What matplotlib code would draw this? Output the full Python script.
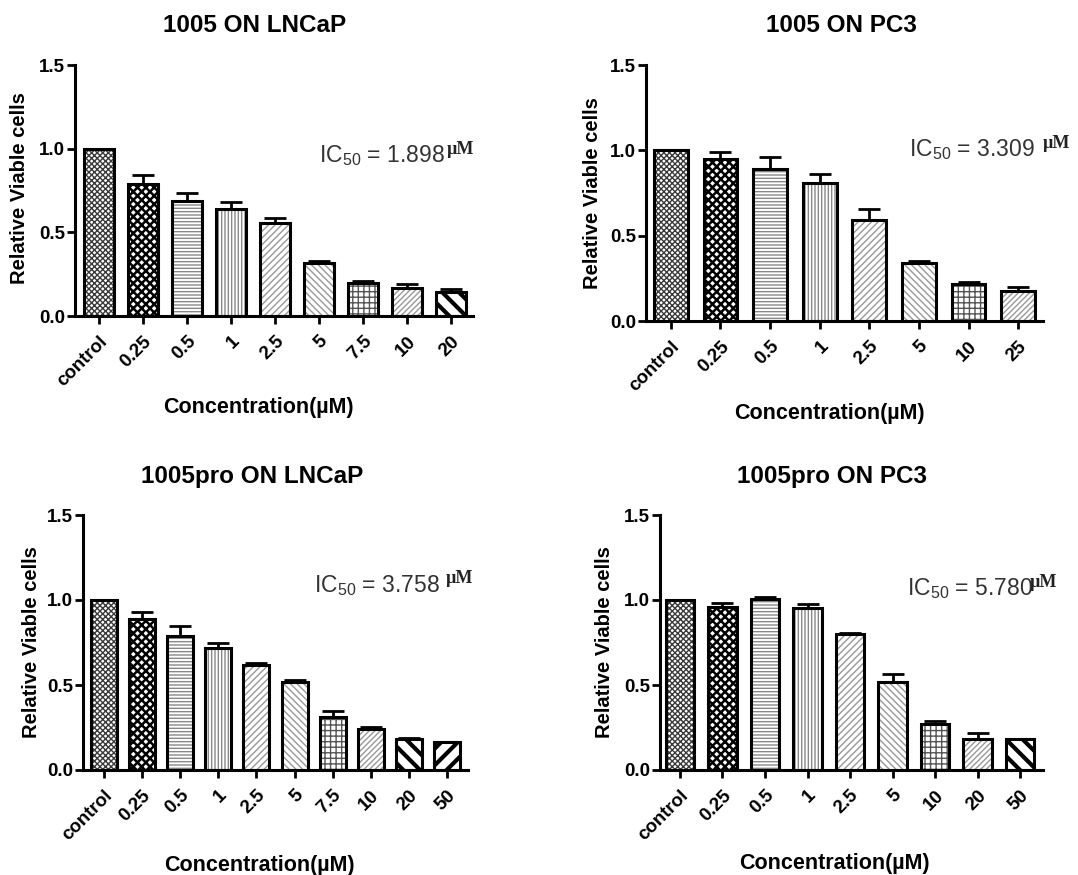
import numpy as np
import matplotlib
matplotlib.use('Agg')
import matplotlib.pyplot as plt

plt.rcParams['font.family'] = ['Liberation Sans', 'DejaVu Sans']
plt.rcParams['font.weight'] = 'bold'
plt.rcParams['mathtext.default'] = 'regular'

# datos
labels1 = ['control', '0.25', '0.5', '1', '2.5', '5', '7.5', '10', '20']
mean1 = [1.0, 0.79, 0.69, 0.64, 0.555, 0.315, 0.20, 0.165, 0.145]
err1 = [0.0, 0.05, 0.045, 0.04, 0.03, 0.015, 0.01, 0.025, 0.015]

labels2 = ['control', '0.25', '0.5', '1', '2.5', '5', '10', '25']
mean2 = [1.0, 0.95, 0.89, 0.81, 0.59, 0.34, 0.215, 0.175]
err2 = [0.0, 0.04, 0.07, 0.05, 0.065, 0.012, 0.015, 0.025]

labels3 = ['control', '0.25', '0.5', '1', '2.5', '5', '7.5', '10', '20', '50']
mean3 = [1.0, 0.89, 0.79, 0.72, 0.62, 0.515, 0.31, 0.24, 0.18, 0.165]
err3 = [0.0, 0.04, 0.06, 0.03, 0.012, 0.015, 0.04, 0.015, 0.008, 0.0]

labels4 = ['control', '0.25', '0.5', '1', '2.5', '5', '10', '20', '50']
mean4 = [1.0, 0.96, 1.005, 0.955, 0.80, 0.52, 0.27, 0.185, 0.18]
err4 = [0.0, 0.025, 0.01, 0.02, 0.005, 0.045, 0.02, 0.03, 0.003]

titles = ['1005 ON LNCaP', '1005 ON PC3', '1005pro ON LNCaP', '1005pro ON PC3']
ic50 = ['1.898', '3.309', '3.758', '5.780']

# tramas tipo GraphPad, en orden de barra
hatches = ['xxxxxx', 'xxxx', '-----', '|||||', '/////', '\\\\\\\\\\', '+++', '//////', '\\\\', '//']
hcolors = ['#3a3a3a', 'black', '#888888', '#888888', '#999999', '#999999', '#555555', '#999999', 'black', 'black']
hlws = [1.0, 1.8, 1.0, 1.0, 1.0, 1.0, 1.0, 1.0, 3.0, 3.0]

fig = plt.figure(figsize=(10.78, 8.75), dpi=100)
W, H = 1078.0, 875.0

# (left, right, top, bottom) en pixeles
boxes = [(75, 473, 65, 316), (646, 1043, 65, 321), (83, 468, 515, 770), (660, 1043, 515, 770)]
xlims = [(-0.55, 8.5), (-0.5, 7.5), (-0.55, 9.55), (-0.47, 8.54)]
title_pos = [(255, 25), (841, 25), (252, 477), (832, 477)]
xlab_pos = [(258, 408), (829, 413), (259, 865), (834, 863)]
ylab_pos = [(20, 188), (592, 193), (32, 642), (605, 642)]
ic_pos = [(0.93, 0.64, 0.935), (0.98, 0.67, 1.0), (0.927, 0.725, 0.943), (0.974, 0.71, 0.966)]

data = [(labels1, mean1, err1), (labels2, mean2, err2), (labels3, mean3, err3), (labels4, mean4, err4)]

for k in range(4):
    labels, mean, err = data[k]
    l, r, t, b = boxes[k]
    ax = fig.add_axes([l / W, 1 - b / H, (r - l) / W, (b - t) / H])
    x = np.arange(len(labels))
    for i in range(len(labels)):
        with plt.rc_context({'hatch.linewidth': hlws[i]}):
            p = ax.bar(x[i], mean[i], width=0.68, color='white', edgecolor=hcolors[i],
                       hatch=hatches[i], linewidth=0, zorder=2)
        for patch in p:
            if hasattr(patch, 'set_hatch_linewidth'):
                patch.set_hatch_linewidth(hlws[i])
    ax.bar(x, mean, width=0.68, fill=False, edgecolor='black', linewidth=2.2, zorder=3)
    ax.errorbar(x, mean, yerr=[np.zeros(len(err)), err], fmt='none', ecolor='black',
                elinewidth=2, capsize=8, capthick=2, zorder=4)
    ax.set_xlim(*xlims[k])
    ax.set_ylim(0, 1.5)
    ax.set_yticks([0, 0.5, 1.0, 1.5])
    ax.set_yticklabels(['0.0', '0.5', '1.0', '1.5'])
    ax.set_xticks(x)
    ax.set_xticklabels(labels, rotation=45, ha='right', rotation_mode='anchor')
    ax.tick_params(axis='both', direction='out', width=2, length=6, labelsize=13.5, pad=1)
    ax.tick_params(axis='x', pad=6)
    for s in ['top', 'right']:
        ax.spines[s].set_visible(False)
    for s in ['left', 'bottom']:
        ax.spines[s].set_linewidth(2.2)

    # IC50
    xe, yy, xm = ic_pos[k]
    ax.text(xe, yy, 'IC$_{50}$ = ' + ic50[k], transform=ax.transAxes, ha='right', va='center',
            fontsize=16.5, fontweight='normal', color='#333333')
    ax.text(xm, yy + 0.025, '\u00b5M', transform=ax.transAxes, ha='left', va='center',
            fontsize=13, fontweight='bold', family='Liberation Serif', color='#222222')

    fig.text(title_pos[k][0] / W, 1 - title_pos[k][1] / H, titles[k], ha='center', va='center',
             fontsize=17.5, fontweight='bold')
    fig.text(xlab_pos[k][0] / W, 1 - xlab_pos[k][1] / H, 'Concentration(\u00b5M)', ha='center',
             va='center', fontsize=15.5, fontweight='bold')
    fig.text(ylab_pos[k][0] / W, 1 - ylab_pos[k][1] / H, 'Relative Viable cells', ha='center',
             va='center', rotation=90, fontsize=14.5, fontweight='bold')

fig.savefig('out.png', dpi=100)
